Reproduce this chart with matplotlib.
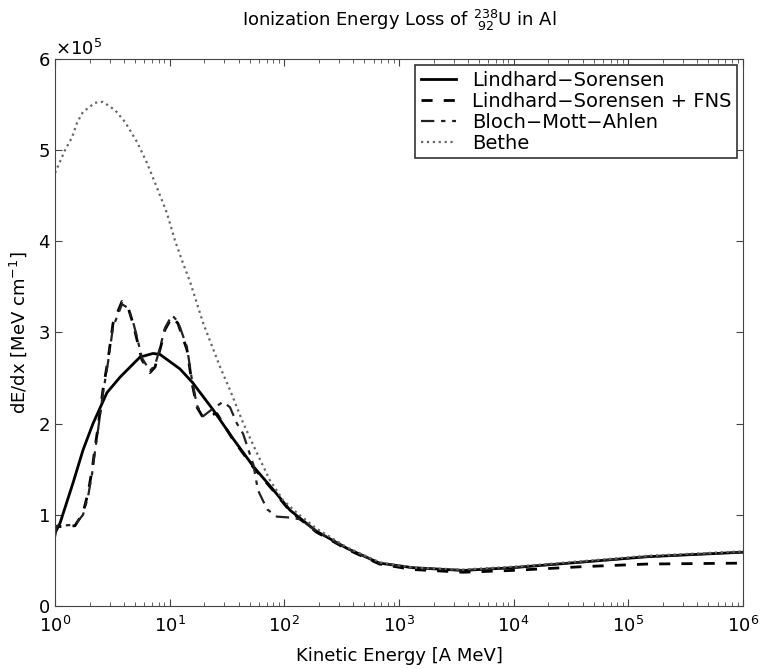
import matplotlib
matplotlib.use("Agg")
import matplotlib.pyplot as plt
import numpy as np

plt.rcParams['font.family'] = ['DejaVu Sans']
plt.rcParams['mathtext.fontset'] = 'dejavusans'

# kinetic energy (log10 of A MeV) and dE/dx (MeV/cm)
ls_logE = [0.0, 0.044, 0.157, 0.244, 0.331, 0.453, 0.567, 0.741, 0.854, 0.915,
           1.09, 1.20, 1.38, 1.55, 1.73, 1.90, 2.05, 2.28, 2.55, 2.83,
           3.12, 3.56, 3.99, 4.58, 5.16, 6.0]
ls_dedx = [0.80, 0.91, 1.35, 1.71, 2.00, 2.34, 2.51, 2.73, 2.77, 2.76,
           2.60, 2.45, 2.15, 1.84, 1.53, 1.28, 1.05, 0.82, 0.63, 0.47,
           0.42, 0.39, 0.42, 0.48, 0.54, 0.59]

fns_logE = [0.0, 0.017, 0.174, 0.244, 0.288, 0.323, 0.349, 0.375, 0.418, 0.462,
            0.506, 0.584, 0.636, 0.680, 0.715, 0.758, 0.828, 0.872, 0.915, 0.959,
            1.02, 1.072, 1.151, 1.194, 1.238, 1.29, 1.351, 1.412, 1.55, 1.73,
            1.90, 2.05, 2.28, 2.55, 2.83, 3.12, 3.56, 3.99, 4.58, 5.16, 6.0]
fns_dedx = [0.80, 0.87, 0.88, 1.02, 1.24, 1.49, 1.74, 1.96, 2.37, 2.70,
            3.10, 3.34, 3.28, 3.10, 2.92, 2.70, 2.56, 2.62, 2.81, 3.03,
            3.17, 3.10, 2.81, 2.45, 2.18, 2.07, 2.10, 2.11, 1.83, 1.52,
            1.27, 1.04, 0.81, 0.62, 0.46, 0.40, 0.37, 0.39, 0.43, 0.46, 0.47]

bma_logE = [0.0, 0.017, 0.174, 0.244, 0.288, 0.323, 0.349, 0.375, 0.418, 0.462,
            0.506, 0.584, 0.636, 0.680, 0.715, 0.758, 0.828, 0.872, 0.915, 0.959,
            1.02, 1.072, 1.151, 1.194, 1.238, 1.29, 1.351, 1.465, 1.526, 1.587,
            1.64, 1.73, 1.77, 1.85, 1.935, 2.05, 2.14, 2.28, 2.55, 2.83,
            3.12, 3.56, 3.99, 4.58, 5.16, 6.0]
bma_dedx = [0.76, 0.88, 0.89, 1.00, 1.20, 1.45, 1.70, 1.93, 2.33, 2.67,
            3.06, 3.31, 3.27, 3.12, 2.95, 2.72, 2.58, 2.64, 2.83, 3.05,
            3.19, 3.12, 2.84, 2.48, 2.20, 2.08, 2.14, 2.24, 2.18, 2.00,
            1.89, 1.55, 1.27, 1.06, 0.98, 0.97, 0.95, 0.82, 0.63, 0.47,
            0.42, 0.39, 0.42, 0.48, 0.54, 0.59]

bethe_logE = [0.0, 0.087, 0.148, 0.192, 0.244, 0.349, 0.418, 0.523, 0.610, 0.715,
              0.802, 0.889, 0.976, 1.046, 1.116, 1.177, 1.29, 1.44, 1.526, 1.64,
              1.76, 1.874, 1.99, 2.11, 2.28, 2.55, 2.83, 3.12, 3.56, 3.99,
              4.58, 5.16, 6.0]
bethe_dedx = [4.75, 5.00, 5.14, 5.30, 5.42, 5.52, 5.53, 5.44, 5.31, 5.09,
              4.86, 4.59, 4.31, 4.01, 3.76, 3.56, 3.11, 2.62, 2.37, 2.01,
              1.68, 1.38, 1.16, 1.02, 0.85, 0.64, 0.48, 0.42, 0.40, 0.43,
              0.49, 0.55, 0.60]

fig = plt.figure(figsize=(7.61, 6.69), dpi=100)
ax = fig.add_axes([0.0723, 0.0942, 0.904, 0.8176])

def curve(logE, dedx):
    return 10.0 ** np.array(logE), np.array(dedx) * 1e5

ax.plot(*curve(ls_logE, ls_dedx), '-', color='black', lw=2.0, label='Lindhard\u2212Sorensen')
ax.plot(*curve(fns_logE, fns_dedx), '--', color='black', lw=2.0, dashes=(4, 4),
        label='Lindhard\u2212Sorensen + FNS')
ax.plot(*curve(bma_logE, bma_dedx), '-.', color='#222222', lw=1.6, dashes=(6, 3, 2, 3),
        label='Bloch\u2212Mott\u2212Ahlen')
ax.plot(*curve(bethe_logE, bethe_dedx), ':', color='#666666', lw=1.6, label='Bethe')

ax.set_xscale('log')
ax.set_xlim(1, 1e6)
ax.set_ylim(0, 6e5)
ax.set_yticks(np.arange(0, 7) * 1e5)
ax.ticklabel_format(axis='y', style='sci', scilimits=(0, 0), useMathText=True)
ax.yaxis.get_offset_text().set_fontsize(13)

ax.tick_params(which='both', direction='in', top=True, right=True, labelsize=13,
               color='#444444')
ax.tick_params(which='major', length=5)
ax.tick_params(which='minor', length=3)
ax.tick_params(axis='x', pad=7)
for s in ax.spines.values():
    s.set_color('#444444')

ax.set_xlabel('Kinetic Energy [A MeV]', fontsize=13, labelpad=8)
ax.set_ylabel(r'dE/dx [MeV cm$^{-1}$]', fontsize=13, labelpad=6)
ax.set_title(r'Ionization Energy Loss of ${}^{238}_{\ 92}$U in Al', fontsize=13, pad=24)

leg = ax.legend(loc='upper right', fontsize=14, fancybox=False, edgecolor='#333333',
                handlelength=1.8, borderpad=0.3, labelspacing=0.1, borderaxespad=0.3,
                framealpha=1)
leg.get_frame().set_linewidth(1.2)

fig.savefig('out.png', dpi=100)
